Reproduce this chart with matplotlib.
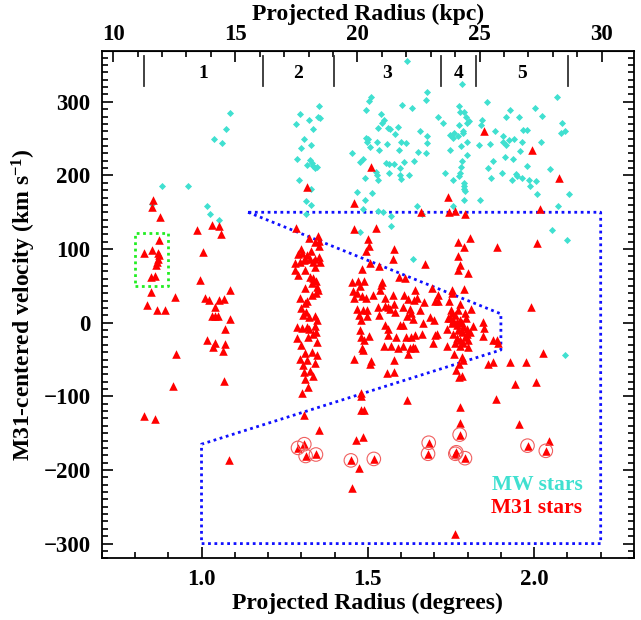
import numpy as np
import matplotlib
matplotlib.use("Agg")
import matplotlib.pyplot as plt
from matplotlib.ticker import MultipleLocator, FixedLocator

plt.rcParams['font.family'] = ['Liberation Serif', 'DejaVu Serif']
plt.rcParams['font.weight'] = 'bold'
plt.rcParams['mathtext.fontset'] = 'custom'
plt.rcParams['mathtext.rm'] = 'Liberation Serif:bold'
plt.rcParams['mathtext.it'] = 'Liberation Serif:bold'
plt.rcParams['mathtext.bf'] = 'Liberation Serif:bold'
plt.rcParams['mathtext.default'] = 'rm'

# distance to M31 (kpc) used for the top axis
D_M31 = 780.0

# Milky Way foreground stars: (radius deg, velocity km/s)
mw_pts = [
    (0.882, 185), (0.958, 186), (1.086, 285), (1.075, 263), (1.037, 250), (1.063, 244),
    (1.017, 158), (1.025, 148), (1.054, 139), (0.85, 161),
    (1.354, 295), (1.295, 284), (1.35, 279), (1.355, 278), (1.324, 275), (1.283, 270),
    (1.334, 263), (1.308, 249), (1.328, 242), (1.299, 237), (1.286, 223), (1.326, 221),
    (1.332, 217), (1.316, 214), (1.334, 213), (1.341, 210), (1.346, 211), (1.292, 194),
    (1.328, 181), (1.314, 165), (1.328, 160), (1.315, 148),
    (1.617, 356), (1.782, 324), (1.679, 314), (1.51, 306), (1.504, 301), (1.676, 302),
    (2.068, 306), (1.859, 300), (1.602, 296), (1.632, 292), (1.775, 295), (1.494, 289),
    (2.003, 291), (1.928, 289), (1.777, 286), (1.789, 286), (1.541, 283), (1.711, 279),
    (1.794, 279), (1.915, 280), (1.953, 280), (2.023, 281), (1.55, 275), (1.544, 271),
    (1.803, 274), (1.797, 271), (1.843, 275), (1.84, 269), (1.727, 271), (2.085, 271),
    (1.591, 266), (1.562, 264), (1.566, 263), (1.531, 264), (1.774, 268), (1.787, 261),
    (1.787, 258), (1.883, 261), (1.966, 262), (1.978, 262), (2.094, 261), (2.081, 257),
    (1.658, 261), (1.581, 256), (1.759, 258), (1.747, 255), (1.757, 251), (1.77, 253),
    (1.906, 253), (1.907, 246), (1.679, 253), (1.494, 251), (1.5, 249), (1.498, 245),
    (1.94, 249), (1.925, 248), (1.527, 245), (1.601, 246), (1.615, 244), (1.798, 245),
    (1.962, 246), (2.021, 246), (1.557, 243), (1.677, 244), (1.835, 242), (1.779, 240),
    (1.868, 243), (1.916, 241), (1.508, 239), (1.535, 235), (1.593, 234), (1.652, 232),
    (1.674, 231), (1.746, 235), (1.956, 233), (1.452, 231), (1.797, 228), (1.912, 225),
    (1.936, 223), (1.485, 222), (1.475, 218), (1.782, 220), (1.877, 219), (1.64, 220),
    (1.61, 218), (1.556, 217), (1.565, 216), (1.579, 215), (1.978, 213), (1.78, 211),
    (1.86, 210), (2.048, 209), (1.597, 210), (1.525, 205), (1.527, 201), (1.564, 204),
    (1.732, 204), (1.902, 203), (1.777, 203), (1.775, 199), (1.597, 200), (1.624, 200),
    (1.944, 202), (1.948, 199), (1.963, 197), (1.87, 197), (1.49, 196), (1.531, 194),
    (1.6, 195), (1.755, 194), (1.933, 194), (1.985, 194), (2.006, 192), (1.789, 190),
    (1.789, 186), (1.789, 182), (1.986, 186), (1.514, 176), (1.467, 177), (1.491, 167),
    (1.792, 179), (1.79, 167), (1.837, 166), (2.01, 175), (2.104, 175), (1.647, 159),
    (1.757, 159), (2.073, 159), (1.484, 155), (1.531, 152), (1.547, 151), (1.569, 145),
    (1.475, 123), (1.569, 131), (2.055, 126), (2.099, 113), (1.664, 148), (1.637, 86),
    (2.092, -44),
]

# M31 stars
m31_pts = [
    # inner fields
    (0.855, 166), (0.852, 157), (0.875, 143), (0.986, 126), (1.031, 133), (1.052, 131),
    (1.06, 121), (0.873, 112), (0.826, 95), (0.85, 99), (0.868, 95), (0.872, 92),
    (0.868, 87), (0.865, 83), (0.863, 78), (0.86, 63), (0.847, 62), (1.005, 96),
    (0.995, 58), (0.849, 42), (0.92, 35), (0.836, 24), (0.865, 17), (0.891, 17),
    (1.086, 45), (1.01, 33), (1.023, 31), (1.053, 31), (1.067, 32), (1.041, 22),
    (1.033, 9), (1.041, 9), (1.05, 9), (1.085, 5), (1.072, -9), (1.017, -23),
    (1.042, -27), (1.034, -33), (1.072, -29), (1.064, -38), (0.923, -43), (1.068, -79),
    (0.915, -86), (0.826, -127), (0.859, -131), (1.083, -186),
    # field 2 column
    (1.317, 184), (1.284, 128), (1.322, 115), (1.351, 118), (1.353, 111), (1.341, 110),
    (1.352, 104), (1.289, 93), (1.303, 95), (1.316, 92), (1.31, 87), (1.326, 86),
    (1.342, 87), (1.354, 89), (1.296, 83), (1.281, 81), (1.308, 85), (1.336, 83),
    (1.356, 83), (1.341, 76), (1.311, 72), (1.282, 71), (1.326, 62), (1.334, 61),
    (1.331, 54), (1.31, 47), (1.348, 48), (1.351, 44), (1.333, 37), (1.344, 40),
    (1.295, 34), (1.318, 30), (1.31, 27), (1.314, 15), (1.306, 11), (1.323, 8),
    (1.34, 9), (1.346, 4), (1.286, -6), (1.301, -7), (1.316, -6), (1.324, -8),
    (1.341, -5), (1.344, -12), (1.286, -21), (1.321, -20), (1.348, -26), (1.311, -41),
    (1.333, -40), (1.348, -44), (1.296, -49), (1.316, -50), (1.308, -67), (1.326, -65),
    (1.311, -77), (1.321, -87), (1.302, -95), (1.309, -125), (1.352, -146),
    (1.30, 100), (1.33, 97), (1.29, 65), (1.345, 56), (1.30, 20), (1.335, -15),
    (1.30, -30), (1.34, -55), (1.305, -58), (1.335, -72),
    # fields 3-5
    (1.511, 211), (1.742, 171), (1.459, 163), (2.018, 154), (1.659, 150), (1.745, 151),
    (1.762, 152), (1.792, 148), (1.458, 127), (1.525, 129), (1.849, 260), (1.995, 234),
    (2.076, 196), (1.5, 114), (1.502, 104), (1.495, 97), (1.579, 100), (1.576, 86),
    (1.483, 73), (1.507, 81), (1.535, 77), (1.673, 80), (1.772, 110), (1.808, 115),
    (1.789, 103), (1.772, 91), (1.777, 78), (1.772, 71), (1.802, 68), (1.889, 103),
    (2.008, 108), (1.99, 22), (2.026, -41), (1.926, -54), (1.974, -54), (1.862, -56),
    (1.876, -54), (1.941, -83), (2.005, -81), (1.594, 62), (1.613, 61),
    (1.453, 55), (1.471, 56), (1.488, 56), (1.544, 55), (1.541, 51), (1.754, 45),
    (1.789, 46), (1.641, 45), (1.693, 47), (1.536, 45), (1.456, 43), (1.476, 50),
    (1.468, 41), (1.459, 33), (1.481, 36), (1.494, 33), (1.516, 38), (1.551, 33),
    (1.576, 38), (1.61, 37), (1.621, 32), (1.64, 31), (1.649, 33), (1.669, 28),
    (1.702, 29), (1.712, 38), (1.712, 29), (1.745, 29), (1.754, 40), (1.777, 25),
    (1.468, 19), (1.484, 17), (1.498, 17), (1.474, 10), (1.496, 9), (1.479, 4),
    (1.531, 22), (1.534, 10), (1.551, 23), (1.561, 21), (1.566, 19), (1.581, 14),
    (1.578, 25), (1.606, 21), (1.626, 18), (1.631, 13), (1.618, 9), (1.636, 5),
    (1.656, 17), (1.665, 0), (1.687, 8), (1.7, 4), (1.747, 7), (1.762, 10),
    (1.809, 18), (1.847, 1), (1.85, -7), (1.737, -8), (1.752, -1), (1.767, -3),
    (1.777, 4), (1.794, 7), (1.787, -6), (1.817, -5), (1.797, -15), (1.757, -15),
    (1.772, -10), (1.782, -12), (1.792, -19), (1.767, -21), (1.777, -24), (1.787, -28),
    (1.802, -33), (1.476, -10), (1.504, -18), (1.478, -20), (1.489, -23), (1.551, -3),
    (1.561, -9), (1.596, -3), (1.606, -3), (1.561, -17), (1.586, -19), (1.616, -19),
    (1.631, -20), (1.641, -17), (1.664, -15), (1.707, -15), (1.702, -17), (1.695, -27),
    (1.739, -31), (1.762, -28), (1.636, -33), (1.626, -35), (1.641, -35), (1.606, -32),
    (1.591, -35), (1.571, -31), (1.549, -31), (1.483, -34), (1.486, -37), (1.621, -42),
    (1.76, -42), (1.782, -46), (1.787, -51), (1.845, -18), (1.887, -24), (1.892, -28),
    (1.877, -23), (1.458, -49), (1.511, -52), (1.506, -56), (1.578, -51), (1.558, -68),
    (1.578, -67), (1.773, -56), (1.765, -64), (1.773, -74), (1.783, -72),
    (1.742, 6), (1.757, 3), (1.769, 1), (1.782, -1), (1.797, -8), (1.807, -12),
    (1.752, 13), (1.772, 17), (1.749, 17), (1.792, 13), (1.802, -24), (1.777, -32),
    (1.479, -95), (1.478, -100), (1.478, -119), (1.489, -119), (1.464, -159),
    (1.485, -155), (1.618, -105), (1.778, -114), (1.776, -136), (1.884, -104),
    (1.954, -137), (2.045, -160), (1.473, -198), (1.453, -224), (1.763, -287),
]

# M31 stars marked with a circle
circ_pts = [
    (1.29, -170), (1.309, -165), (1.313, -181), (1.344, -179), (1.449, -187),
    (1.518, -185), (1.683, -163), (1.681, -178), (1.763, -178), (1.766, -176),
    (1.776, -152), (1.792, -184), (1.98, -167), (2.035, -174),
]

# selection region (blue dotted) and green box
poly_deg = [1.14, 1.9, 1.9, 1.0, 1.0, 2.2, 2.2, 1.14]
poly_vel = [150, 12, -37, -165, -300, -300, 150, 150]
box_deg = [0.8, 0.9, 0.9, 0.8, 0.8]
box_vel = [50, 50, 122, 122, 50]

# field boundaries along the top (deg) and field labels
field_edges = [0.826, 1.184, 1.398, 1.72, 1.825, 2.103]
field_names = ['1', '2', '3', '4', '5']

kpc_ticks = [10, 15, 20, 25, 30]

mw = np.array(mw_pts)
m31 = np.array(m31_pts)
circ = np.array(circ_pts)


def deg2kpc(d):
    return D_M31 * np.tan(np.radians(d))


def kpc2deg(k):
    return np.degrees(np.arctan(k / D_M31))


fig = plt.figure(figsize=(6.41, 6.2), dpi=100)
ax = fig.add_axes([0.1587, 0.0995, 0.8303, 0.8182])

ax.plot(poly_deg, poly_vel, color='#1010ff', ls=(0, (1, 1.3)), lw=2.0, zorder=1)
ax.plot(box_deg, box_vel, color='#22ee22', ls=(0, (1, 1.3)), lw=2.0, zorder=1)

ax.scatter(mw[:, 0], mw[:, 1], marker='D', s=13, color='#40e0d0', lw=0, zorder=2)
ax.scatter(m31[:, 0], m31[:, 1], marker='^', s=38, color='#ff0000', lw=0, zorder=3)
ax.scatter(circ[:, 0], circ[:, 1], marker='^', s=38, color='#ff0000', lw=0, zorder=3)
ax.scatter(circ[:, 0], circ[:, 1], marker='o', s=95, facecolor='none',
           edgecolor='#f06060', lw=0.8, zorder=4)

# field markers
for e in field_edges:
    ax.plot([e, e], [322, 362], color='#333333', lw=1.3, zorder=2)
for i, name in enumerate(field_names):
    xc = 0.5 * (field_edges[i] + field_edges[i + 1])
    ax.text(xc, 339, name, ha='center', va='center', fontsize=14, fontweight='bold')

ax.text(2.145, -221, 'MW stars', color='#40e0d0', fontsize=15.5,
        fontweight='bold', ha='right', va='center')
ax.text(2.145, -251, 'M31 stars', color='#ff0000', fontsize=15.5,
        fontweight='bold', ha='right', va='center')

ax.set_xlim(0.7, 2.3)
ax.set_ylim(-320, 369)
ax.xaxis.set_major_locator(MultipleLocator(0.5))
ax.xaxis.set_minor_locator(MultipleLocator(0.1))
ax.yaxis.set_major_locator(MultipleLocator(100))
ax.yaxis.set_minor_locator(MultipleLocator(10))
ax.xaxis.set_major_formatter(plt.FuncFormatter(lambda v, p: f'{v:.1f}'))
ax.tick_params(which='both', direction='in', top=False, right=True, labelsize=16.5, width=1.2)
ax.tick_params(which='major', length=8, pad=8)
ax.tick_params(which='minor', length=4)
for sp in ax.spines.values():
    sp.set_linewidth(1.3)

ax.set_xlabel('Projected Radius (degrees)', fontsize=17, fontweight='bold', labelpad=2)
ax.set_ylabel('M31-centered velocity (km s$^{-1}$)', fontsize=17, fontweight='bold', labelpad=4)

sec = ax.secondary_xaxis('top', functions=(deg2kpc, kpc2deg))
sec.xaxis.set_major_locator(FixedLocator(kpc_ticks))
sec.xaxis.set_minor_locator(FixedLocator(list(range(10, 31))))
sec.tick_params(which='both', direction='in', labelsize=16.5, width=1.2)
sec.tick_params(which='major', length=8, pad=4)
sec.tick_params(which='minor', length=4)
sec.set_xlabel('Projected Radius (kpc)', fontsize=17, fontweight='bold', labelpad=3)

fig.savefig('out.png', dpi=100)
